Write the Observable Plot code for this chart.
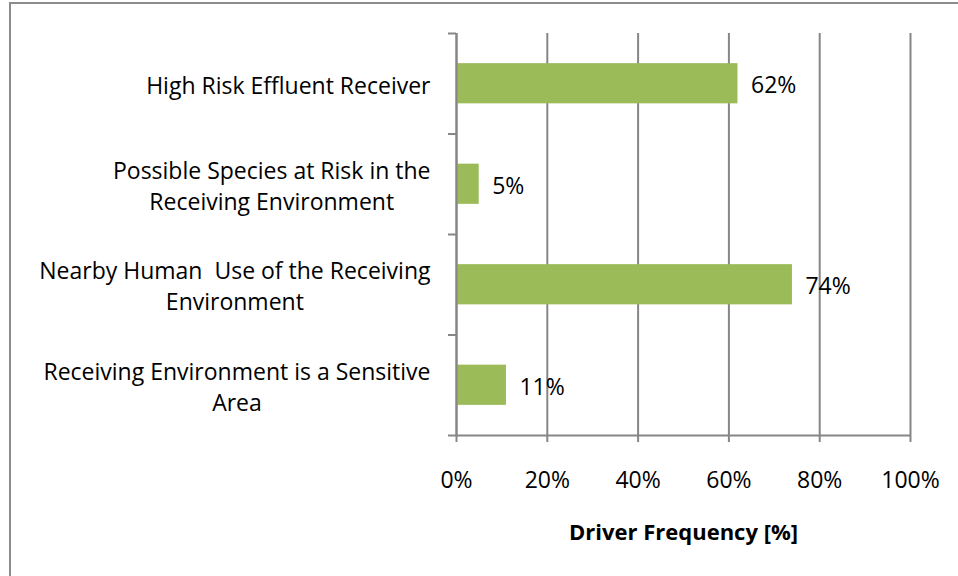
<!DOCTYPE html>
<html>
<head>
<meta charset="utf-8">
<script src="https://cdn.jsdelivr.net/npm/d3@7"></script>
<script src="https://cdn.jsdelivr.net/npm/@observablehq/plot@0.6"></script>
<style>
  html, body { margin: 0; padding: 0; background: #fff; overflow: hidden; }
  #wrap { position: relative; width: 958px; height: 576px; }
  #border {
    position: absolute; left: 9px; top: 2px; width: 1000px; height: 700px;
    border-top: 2px solid #8c8c8c; border-left: 2px solid #8c8c8c; pointer-events: none;
  }
  #chart svg { display: block; }
</style>
</head>
<body>
<div id="wrap">
  <div id="chart"></div>
  <div id="border"></div>
</div>
<script>
// Drivers behind the monitoring requirement, and how often each was cited
const categories = [
  "High Risk Effluent Receiver",
  "Possible Species at Risk in the\nReceiving Environment",
  "Nearby Human  Use of the Receiving\nEnvironment",
  "Receiving Environment is a Sensitive\nArea"
];
const frequencies = [62, 5, 74, 11];
const xTicks = [0, 20, 40, 60, 80, 100];
const xTitle = "Driver Frequency [%]";

const FAMILY = "'Open Sans'";
const FONT = `${FAMILY}, Lato, sans-serif`;
const FS = 23;
const GRID = "#868686";
const BAR = "#9bbb59";

const rows = categories.map((name, i) => ({name, value: frequencies[i], i}));

// width of the longest line of a label, so multi-line labels can be centred
const ctx = document.createElement("canvas").getContext("2d");
ctx.font = `${FS}px ${FAMILY}`;
const blockWidth = (s) => Math.max(...s.split("\n").map((l) => ctx.measureText(l).width));
const labelGap = 26;

const chart = Plot.plot({
  width: 958,
  height: 576,
  marginLeft: 456,
  marginRight: 48,
  marginTop: 33,
  marginBottom: 141,
  style: {fontFamily: FONT, fontSize: `${FS}px`, color: "#000", background: "transparent"},
  x: {domain: [0, 100]},
  y: {domain: [0, categories.length], reverse: true},
  marks: [
    Plot.gridX(xTicks, {stroke: GRID, strokeOpacity: 1, strokeWidth: 2}),
    Plot.rectX(rows, {
      x1: 0, x2: "value",
      y1: (d) => d.i + 0.3, y2: (d) => d.i + 0.7,
      fill: BAR
    }),
    Plot.ruleX([0], {stroke: GRID, strokeWidth: 2}),
    Plot.ruleY([categories.length], {stroke: GRID, strokeWidth: 2}),
    Plot.axisX({
      ticks: xTicks, tickSize: 7, tickPadding: 29,
      tickFormat: (d) => `${d}%`,
      stroke: GRID, strokeWidth: 2, fontSize: FS, label: null
    }),
    Plot.axisY({
      ticks: d3.range(categories.length + 1), tickSize: 8,
      tickFormat: () => "", stroke: GRID, strokeWidth: 2, label: null
    }),
    Plot.text(rows, {
      x: "value", y: (d) => d.i + 0.5,
      text: (d) => `${d.value}%`,
      textAnchor: "start", dx: 13, dy: 2, fontSize: FS, fill: "#000"
    }),
    ...rows.map((r) => Plot.text([r], {
      x: 0, y: (d) => d.i + 0.5, text: "name",
      textAnchor: "middle", lineAnchor: "middle", lineHeight: 1.35,
      dx: -(labelGap + blockWidth(r.name) / 2), fontSize: FS, fill: "#000"
    })),
    Plot.text([xTitle], {
      frameAnchor: "bottom", dy: 104, fontSize: 22, fontWeight: "bold", fill: "#000"
    })
  ]
});
document.getElementById("chart").append(chart);
</script>
</body>
</html>
